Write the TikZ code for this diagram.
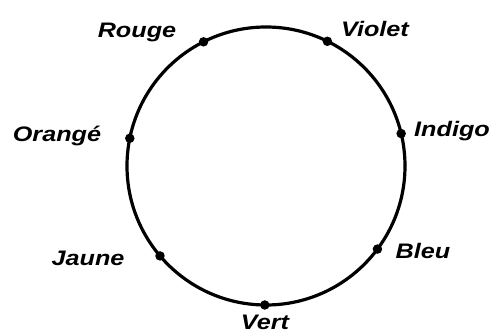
\documentclass[tikz,border=0pt]{standalone}
\usepackage{fontspec}
\setmainfont{Liberation Sans}[FakeStretch=1.2]
\begin{document}
\begin{tikzpicture}[x=1pt,y=1pt,
  ring/.style={line width=3.2pt},
  dot/.style={circle,fill=black,inner sep=0pt,minimum size=9.5pt},
  lab/.style={anchor=base,inner sep=0pt,font=\fontsize{21}{21}\selectfont\bfseries\itshape}]
\useasboundingbox (0,0) rectangle (493,333);
\coordinate (c) at (266,167);
\draw[ring] (c) circle (139);
\node[dot] (rouge)  at ([shift={(116.7:139)}]c) {};
\node[dot] (violet) at ([shift={(63.8:139)}]c) {};
\node[dot] (orange) at ([shift={(168.5:139)}]c) {};
\node[dot] (indigo) at ([shift={(13.5:139)}]c) {};
\node[dot] (jaune)  at ([shift={(220.3:139)}]c) {};
\node[dot] (bleu)   at ([shift={(323.3:139)}]c) {};
\node[dot] (vert)   at ([shift={(269.5:139)}]c) {};
\node[lab] (trouge)  at (137,295.5) {Rouge};
\node[lab] (tviolet) at (375,296.5) {Violet};
\node[lab] (torange) at (57,191.5) {Orangé};
\node[lab] (tindigo) at (452,196.5) {Indigo};
\node[lab] (tjaune)  at (88,68) {Jaune};
\node[lab] (tbleu)   at (423,75) {Bleu};
\node[lab] (tvert)   at (265,3.5) {Vert};
\end{tikzpicture}
\end{document}
